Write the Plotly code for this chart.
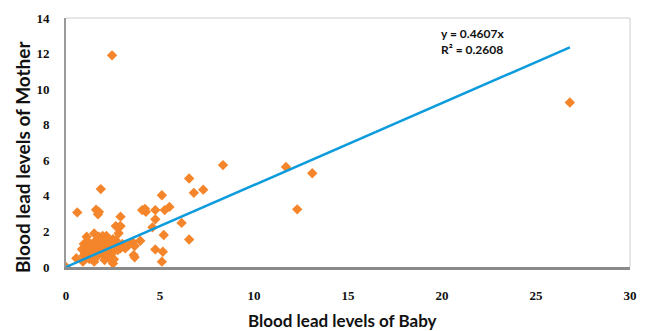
import plotly.graph_objects as go

baby = [2.45, 26.8, 13.1, 12.3, 11.7, 8.35, 7.3, 6.55, 6.8, 6.15, 6.55, 5.1, 5.5, 5.25, 4.75,
        4.2, 4.05, 4.25, 4.75, 4.6, 5.2, 4.75, 5.15, 5.1, 1.85, 0.6, 1.6, 1.75, 1.7, 2.9,
        2.65, 2.9, 2.8, 3.95, 3.65, 3.6, 3.65, 3.55, 3.15, 2.9, 2.75, 2.5, 2.65, 2.15, 1.95,
        2.4, 2.5, 2.55, 2.05, 1.5, 1.1, 1.5, 0.9, 0.55, 0.0,
        0.85, 0.95, 1.0, 1.05, 1.15, 1.2, 1.3, 1.35, 1.4, 1.45, 1.55, 1.6, 1.65, 1.7, 1.8,
        1.85, 1.9, 2.0, 2.05, 2.1, 2.2, 2.3, 2.35, 2.4, 2.45, 2.6, 2.7, 3.0, 3.3, 1.25,
        0.95, 2.3, 1.75, 2.85]
mother = [11.9, 9.25, 5.27, 3.24, 5.62, 5.73, 4.35, 4.98, 4.17, 2.48, 1.55, 4.03, 3.38, 3.2, 3.2,
          3.27, 3.2, 3.1, 2.68, 2.23, 1.8, 0.99, 0.86, 0.3, 4.38, 3.07, 3.22, 3.1, 2.97, 2.83,
          2.3, 2.3, 1.9, 1.48, 1.18, 0.67, 0.55, 1.4, 1.05, 1.05, 0.96, 1.56, 1.5, 1.74, 1.74,
          0.39, 0.2, 0.43, 0.39, 1.89, 1.7, 0.3, 0.3, 0.49, 0.0,
          1.0, 1.3, 0.8, 1.1, 1.45, 0.9, 1.2, 0.6, 1.0, 1.35, 0.8, 1.15, 1.5, 0.65, 1.0,
          1.3, 0.75, 1.1, 1.45, 0.9, 1.2, 1.0, 1.35, 0.7, 1.15, 1.0, 1.2, 1.3, 1.2, 0.45,
          0.65, 0.55, 1.7, 2.26]

slope = 0.4607
r2 = 0.2608
trend_x = [0.0, max(baby)]
trend_y = [slope * v for v in trend_x]

x_ticks = [0, 5, 10, 15, 20, 25, 30]
y_ticks = [0, 2, 4, 6, 8, 10, 12, 14]

x_title = "Blood lead levels of Baby"
y_title = "Blood lead levels of Mother"

fig = go.Figure()
fig.add_trace(go.Scatter(x=baby, y=mother, mode="markers",
                         marker=dict(symbol="diamond", size=8, color="#F5852A",
                                     line=dict(width=0)),
                         showlegend=False))
fig.add_trace(go.Scatter(x=trend_x, y=trend_y, mode="lines",
                         line=dict(color="#0C9BDC", width=2.5), showlegend=False))

tick_font = dict(family="Liberation Serif", size=13, color="#111111")
fig.update_layout(
    width=648, height=331,
    margin=dict(l=66, r=11, t=18, b=64),
    paper_bgcolor="white", plot_bgcolor="white",
    xaxis=dict(range=[0, 30], tickvals=x_ticks, ticktext=[f"<b>{t}</b>" for t in x_ticks],
               showgrid=False, zeroline=False, showline=True, linecolor="#8a8a8a", linewidth=3,
               ticks="", ticklabelstandoff=14, tickfont=tick_font),
    yaxis=dict(range=[0, 14], tickvals=y_ticks, ticktext=[f"<b>{t}</b>" for t in y_ticks],
               showgrid=False, zeroline=False, showline=True, linecolor="#9a9a9a", linewidth=2,
               ticks="", ticklabelstandoff=12, tickfont=tick_font),
    shapes=[
        dict(type="line", xref="paper", yref="paper", x0=0, x1=1, y0=1, y1=1,
             line=dict(color="#cccccc", width=1)),
        dict(type="line", xref="paper", yref="paper", x0=1, x1=1, y0=0, y1=1,
             line=dict(color="#cccccc", width=1)),
    ],
    annotations=[
        dict(text=f"<b>{x_title}</b>", xref="paper", yref="paper", x=0.49, y=-0.213,
             xanchor="center", yanchor="middle", showarrow=False,
             font=dict(family="Lato", size=17, color="#111111")),
        dict(text=f"<b>{y_title}</b>", xref="paper", yref="paper", x=-0.077, y=0.44,
             xanchor="center", yanchor="middle", textangle=-90, showarrow=False,
             font=dict(family="Lato", size=19, color="#111111")),
        dict(text=f"<b>y = {slope}x<br>R² = {r2}</b>", xref="paper", yref="paper",
             x=0.662, y=0.975, xanchor="left", yanchor="top", align="left", showarrow=False,
             font=dict(family="Lato", size=12, color="#111111")),
    ],
)

fig.write_html("out.html", config={"displayModeBar": False},
               post_script="document.body.style.margin='0';document.body.style.padding='0';")
